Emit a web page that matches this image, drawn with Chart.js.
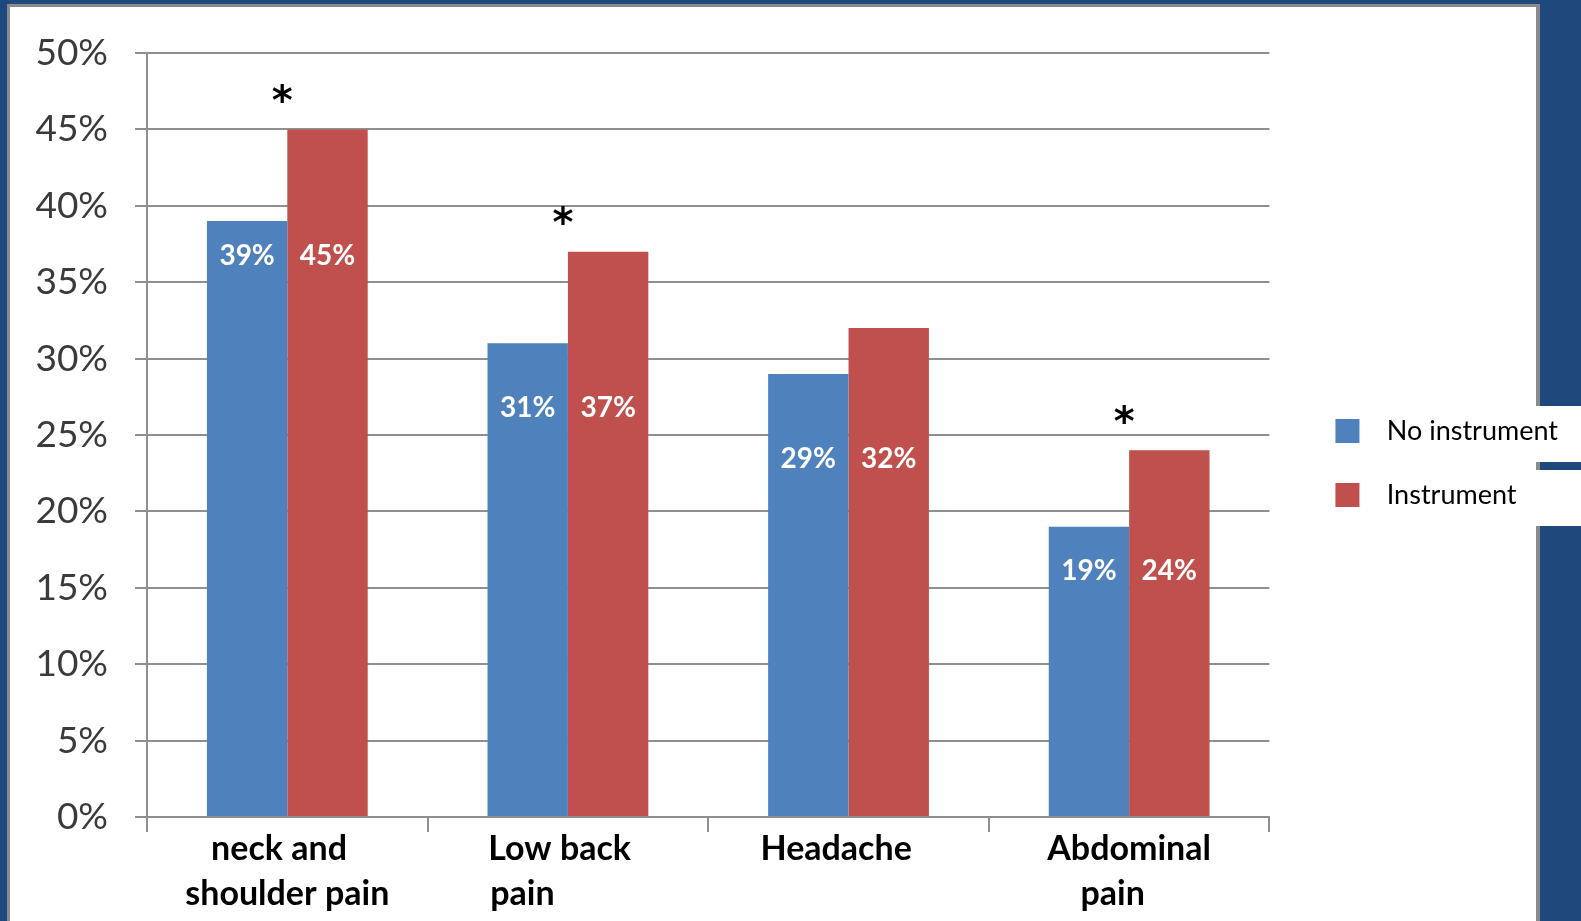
<!DOCTYPE html>
<html>
<head>
<meta charset="utf-8">
<script src="https://cdn.jsdelivr.net/npm/chart.js@4.4.0/dist/chart.umd.min.js"></script>
<style>
  html, body { margin: 0; padding: 0; background: #1f497d; overflow: hidden; }
  canvas { display: block; }
</style>
</head>
<body>
<canvas id="chart" width="1581" height="921"></canvas>
<script>
// Share of respondents reporting each complaint
const categories = [
  ['neck and  ', 'shoulder pain'],
  ['Low back  ', 'pain           '],
  ['Headache   '],
  ['Abdominal', 'pain    ']
];
const seriesNames = ['No instrument', 'Instrument'];
const noInstrument = [39, 31, 29, 19];
const instrument = [45, 37, 32, 24];
const significant = [true, true, false, true];   // marked with *
const yTickValues = [0, 5, 10, 15, 20, 25, 30, 35, 40, 45, 50];

const GRID = '#8f8f8f';
const BLUE = '#4f81bd';
const RED = '#c0504d';

// Slide backdrop: dark frame, white panel, white strips behind legend entries
const backdrop = {
  id: 'backdrop',
  beforeDraw(chart) {
    const { ctx, width, height } = chart;
    ctx.save();
    ctx.fillStyle = '#1f497d';
    ctx.fillRect(0, 0, width, height);
    ctx.fillStyle = '#8a8a8a';
    ctx.fillRect(7, 4, 1533, height);
    ctx.fillStyle = '#ffffff';
    ctx.fillRect(10, 7, 1526, height);
    const lg = chart.legend;
    if (lg && lg.legendHitBoxes) {
      lg.legendHitBoxes.forEach(hb => {
        const cy = hb.top + hb.height / 2 + 3;
        ctx.fillRect(hb.left, cy - 28, width - hb.left, 56);
      });
    }
    ctx.restore();
  }
};

// Place the legend block beside the plot area
const legendPlace = {
  id: 'legendPlace',
  afterLayout(chart, args, opts) {
    const lg = chart.legend;
    lg.left = chart.chartArea.right + opts.dx;
    lg.right = lg.left + lg.width;
    lg.top += opts.dy;
    lg.bottom += opts.dy;
  }
};

// White value labels inside the bars, asterisks over significant pairs
const barNotes = {
  id: 'barNotes',
  afterDatasetsDraw(chart, args, opts) {
    const { ctx } = chart;
    const m0 = chart.getDatasetMeta(0);
    const m1 = chart.getDatasetMeta(1);
    ctx.save();
    ctx.textAlign = 'center';
    ctx.textBaseline = 'middle';
    ctx.font = 'bold 28px Lato';
    ctx.fillStyle = '#ffffff';
    m0.data.forEach((bar, i) => {
      const y = bar.y + opts.drop[i];
      [m0, m1].forEach((m, d) => {
        ctx.fillText(chart.data.datasets[d].data[i] + '%', m.data[i].x, y);
      });
    });
    ctx.font = 'bold 40px "DejaVu Sans"';
    ctx.fillStyle = '#000000';
    const xs = chart.scales.x;
    significant.forEach((sig, i) => {
      if (!sig) return;
      ctx.fillText('*', xs.getPixelForValue(i) - 5, m1.data[i].y - 26);
    });
    ctx.restore();
  }
};

new Chart(document.getElementById('chart'), {
  type: 'bar',
  data: {
    labels: categories,
    datasets: [
      { label: seriesNames[0], data: noInstrument, backgroundColor: BLUE },
      { label: seriesNames[1], data: instrument, backgroundColor: RED }
    ]
  },
  plugins: [backdrop, legendPlace, barNotes],
  options: {
    responsive: false,
    animation: false,
    devicePixelRatio: 1,
    layout: { padding: { top: 53, bottom: 0, left: 0, right: 42 } },
    datasets: { bar: { categoryPercentage: 0.573, barPercentage: 1.0 } },
    scales: {
      x: {
        afterFit(scale) { scale.height = 104; },
        grid: {
          display: true, drawOnChartArea: false, drawTicks: true, offset: true,
          tickLength: 15, color: GRID, lineWidth: 2
        },
        border: { display: true, color: GRID, width: 2 },
        ticks: {
          autoSkip: false, maxRotation: 0, padding: -5, color: '#000000',
          font: { family: 'Lato', size: 34, weight: 'bold', lineHeight: '45px' }
        }
      },
      y: {
        min: 0, max: 50,
        afterFit(scale) { scale.width = 147; },
        afterBuildTicks(scale) { scale.ticks = yTickValues.map(v => ({ value: v })); },
        grid: { color: GRID, lineWidth: 2, tickLength: 12, drawTicks: true },
        border: { display: true, color: GRID, width: 2 },
        ticks: {
          padding: 27, color: '#3a3a3a',
          font: { family: 'Lato', size: 37 },
          callback: v => v + '%'
        }
      }
    },
    plugins: {
      legend: {
        position: 'right',
        align: 'center',
        labels: {
          boxWidth: 24, boxHeight: 24, padding: 37, color: '#000000',
          font: { family: 'Lato', size: 27 },
          generateLabels(chart) {
            return Chart.defaults.plugins.legend.labels.generateLabels(chart)
              .map(item => Object.assign(item, { text: '  ' + item.text }));
          }
        }
      },
      tooltip: { enabled: false },
      legendPlace: { dx: 29, dy: -24 },
      barNotes: { drop: [35, 65, 85, 44] }
    }
  }
});
</script>
</body>
</html>
